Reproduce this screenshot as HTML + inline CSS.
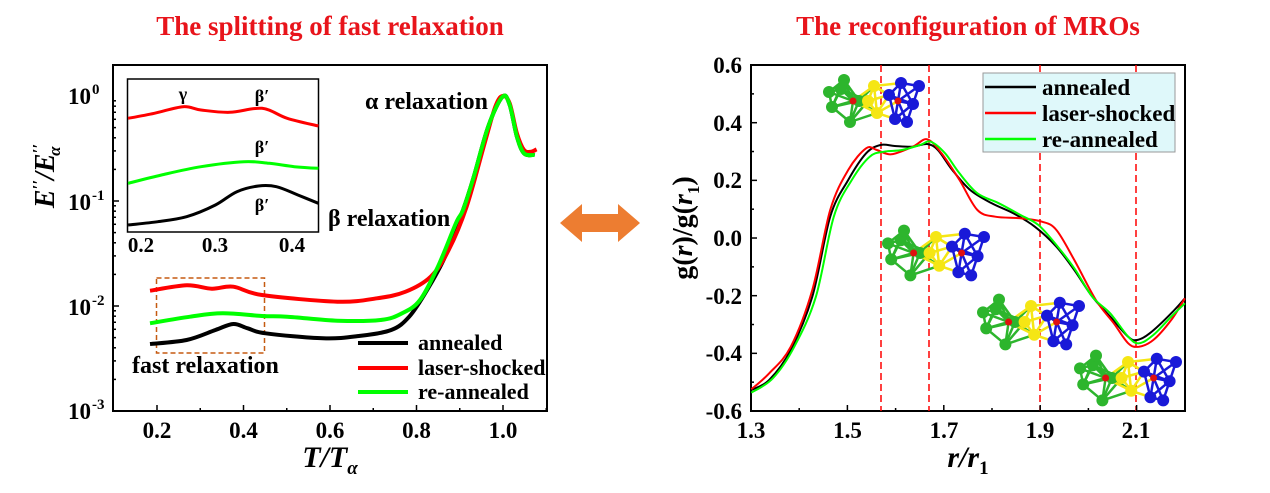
<!DOCTYPE html>
<html><head><meta charset="utf-8"><style>
html,body{margin:0;padding:0;background:#fff;}
svg{display:block;font-family:"Liberation Serif",serif;font-weight:bold;}
</style></head><body>
<svg id="s" width="1270" height="493" viewBox="0 0 1270 493" xmlns="http://www.w3.org/2000/svg">
<text x="330" y="35" font-size="27" fill="#e8141b" text-anchor="middle">The splitting of fast relaxation</text>
<text x="968" y="35" font-size="27" fill="#e8141b" text-anchor="middle">The reconfiguration of MROs</text>
<polygon points="560,223 582,204 582,214 618,214 618,204 640,223 618,242 618,232 582,232 582,242" fill="#ed7d31"/>
<rect x="113" y="65" width="434" height="346" fill="none" stroke="#000" stroke-width="2"/>
<g id="lt" stroke="#000" stroke-width="1.5"></g>
<g font-size="23" text-anchor="middle">
<text x="157" y="438">0.2</text><text x="243.5" y="438">0.4</text><text x="330" y="438">0.6</text><text x="416.5" y="438">0.8</text><text x="503" y="438">1.0</text>
</g>
<g font-size="23" text-anchor="end">
<text x="91" y="104">10</text>
<text x="91" y="210">10</text>
<text x="91" y="315">10</text>
<text x="91" y="419">10</text>
</g>
<g font-size="15">
<text x="92" y="94">0</text><text x="92" y="200">-1</text><text x="92" y="305">-2</text><text x="92" y="409">-3</text>
</g>
<text x="330" y="467" font-size="30" font-style="italic" text-anchor="middle">T/T<tspan font-size="19" dy="7">α</tspan></text>
<text transform="translate(54,176) rotate(-90)" font-size="28" font-style="italic" text-anchor="middle">E<tspan font-size="17" dy="-10">′′</tspan><tspan dy="10">/E</tspan><tspan font-size="17" dy="-10">′′</tspan><tspan font-size="17" dy="16" dx="-12">α</tspan></text>
<rect x="127.5" y="79" width="191" height="153" fill="#fff" stroke="#000" stroke-width="1.5"/>
<g font-size="21" text-anchor="middle"><text x="141" y="252">0.2</text><text x="215" y="252">0.3</text><text x="292" y="252">0.4</text></g>
<g font-size="18" text-anchor="middle"><text x="183" y="100">γ</text><text x="262" y="102">β′</text><text x="262" y="153">β′</text><text x="262" y="211">β′</text></g>
<text x="328" y="226" font-size="24">β relaxation</text>
<text x="365" y="109" font-size="24">α relaxation</text>
<text x="132" y="373" font-size="24">fast relaxation</text>
<rect x="156.5" y="278" width="108" height="75" fill="none" stroke="#c55a11" stroke-width="1.5" stroke-dasharray="5,3"/>
<g stroke-width="4"><line x1="358" y1="343" x2="408" y2="343" stroke="#000"/><line x1="358" y1="368" x2="408" y2="368" stroke="#f00"/><line x1="358" y1="392" x2="408" y2="392" stroke="#0f0"/></g>
<g font-size="22"><text x="418" y="350">annealed</text><text x="418" y="375">laser-shocked</text><text x="418" y="399">re-annealed</text></g>
<rect x="751" y="65" width="434" height="346" fill="none" stroke="#000" stroke-width="2"/>
<g stroke="#f00" stroke-width="1.5" stroke-dasharray="7,4"><line x1="881" y1="65" x2="881" y2="411"/><line x1="929" y1="65" x2="929" y2="411"/><line x1="1040" y1="65" x2="1040" y2="411"/><line x1="1136" y1="65" x2="1136" y2="411"/></g>
<g id="rt" stroke="#000" stroke-width="1.5"></g>
<g font-size="23" text-anchor="middle"><text x="751" y="438">1.3</text><text x="847.5" y="438">1.5</text><text x="944" y="438">1.7</text><text x="1040" y="438">1.9</text><text x="1136" y="438">2.1</text></g>
<g font-size="23" text-anchor="end"><text x="742" y="73">0.6</text><text x="742" y="131">0.4</text><text x="742" y="188">0.2</text><text x="742" y="246">0.0</text><text x="742" y="304">-0.2</text><text x="742" y="361">-0.4</text><text x="742" y="419">-0.6</text></g>
<text x="968" y="467" font-size="30" font-style="italic" text-anchor="middle">r/r<tspan font-size="19" dy="7" font-style="normal">1</tspan></text>
<text transform="translate(692,228) rotate(-90)" font-size="28" text-anchor="middle">g(<tspan font-style="italic">r</tspan>)/g(<tspan font-style="italic">r</tspan><tspan font-size="17" dy="7">1</tspan><tspan dy="-7">)</tspan></text>
<g id="mol"></g>
<rect x="983" y="73" width="192" height="79" fill="#dff8fa" stroke="#999" stroke-width="1"/>
<g stroke-width="2.5"><line x1="985" y1="87" x2="1036" y2="87" stroke="#000"/><line x1="985" y1="113" x2="1036" y2="113" stroke="#f00"/><line x1="985" y1="139" x2="1036" y2="139" stroke="#0f0"/></g>
<g font-size="23"><text x="1042" y="95">annealed</text><text x="1042" y="121">laser-shocked</text><text x="1042" y="147">re-annealed</text></g>
<g id="curves" fill="none"></g>
</svg>
<script>
var K=2.786,KY=3;
function P(a,ox,oy){return a.map(function(p){return [ox+p[0]/K,oy+p[1]/KY];});}
function cr(pts){var d="M"+pts[0][0].toFixed(1)+","+pts[0][1].toFixed(1);
for(var i=0;i<pts.length-1;i++){var p0=pts[i-1]||pts[i],p1=pts[i],p2=pts[i+1],p3=pts[i+2]||p2;
var c1=[p1[0]+(p2[0]-p0[0])/6,p1[1]+(p2[1]-p0[1])/6],c2=[p2[0]-(p3[0]-p1[0])/6,p2[1]-(p3[1]-p1[1])/6];
d+="C"+c1[0].toFixed(1)+","+c1[1].toFixed(1)+" "+c2[0].toFixed(1)+","+c2[1].toFixed(1)+" "+p2[0].toFixed(1)+","+p2[1].toFixed(1);}return d;}
var NS="http://www.w3.org/2000/svg";
function path(par,d,c,w){var e=document.createElementNS(NS,"path");e.setAttribute("d",d);e.setAttribute("stroke",c);e.setAttribute("stroke-width",w);e.setAttribute("fill","none");par.appendChild(e);}
var C=document.getElementById("curves");
var topPts=[[1290,480],[1320,380],[1360,230],[1400,140],[1420,165],[1440,260],[1460,310],[1490,315]];
var L={
"#000":[[418,882],[520,870],[600,840],[650,822],[690,835],[740,850],[900,865],[1000,858],[1090,840],[1140,800],[1190,720],[1240,620]].concat(topPts),
"#f00":[[418,722],[520,706],[590,716],[650,710],[730,735],[940,755],[1050,745],[1130,725],[1200,680],[1250,600],[1300,470],[1350,280],[1380,170],[1400,138],[1420,160],[1440,250],[1460,300],[1480,305],[1495,298]],
"#0f0":[[418,820],[530,800],[620,790],[730,798],[800,800],[940,812],[1060,810],[1120,790],[1170,750],[1220,650],[1270,520]].concat(topPts)};
["#000","#f00","#0f0"].forEach(function(c){path(C,cr(P(L[c],0,50)),c,4);});
var I={"#f00":[[357,205],[430,190],[510,170],[560,180],[640,187],[730,175],[800,205],[887,228]],
"#0f0":[[357,400],[450,375],[560,350],[680,335],[750,340],[820,350],[887,355]],
"#000":[[357,525],[440,515],[520,500],[600,465],[660,425],[720,408],[770,410],[830,435],[887,460]]};
for(var c in I)path(C,cr(P(I[c],0,50)),c,3);
var R={"#000":[[310,1020],[360,990],[420,900],[480,740],[530,500],[580,390],[630,310],[670,285],[710,288],[760,290],[800,282],[830,300],[870,360],[920,420],[980,460],[1040,490],[1100,530],[1160,590],[1210,660],[1260,740],[1310,800],[1360,860],[1385,870],[1420,850],[1480,790],[1518,745]],
"#f00":[[310,1018],[360,970],[420,890],[480,720],[530,480],[580,360],[630,295],[660,300],[700,313],[760,290],[800,268],[840,310],[890,390],[940,480],[990,500],[1060,505],[1120,515],[1160,540],[1210,630],[1270,750],[1320,820],[1360,880],[1390,890],[1430,870],[1480,810],[1518,745]],
"#0f0":[[310,1028],[370,985],[430,890],[490,740],[540,500],[590,390],[640,320],[680,305],[730,300],[780,285],[810,275],[850,310],[890,370],[940,430],[1000,460],[1060,495],[1110,525],[1160,585],[1210,655],[1260,740],[1310,790],[1360,860],[1390,880],[1430,855],[1480,800],[1518,760]]};
["#000","#f00","#0f0"].forEach(function(c){path(C,cr(P(R[c],640,50)),c,2);});
function ln(g,x1,y1,x2,y2){var e=document.createElementNS(NS,"line");e.setAttribute("x1",x1);e.setAttribute("y1",y1);e.setAttribute("x2",x2);e.setAttribute("y2",y2);g.appendChild(e);}
var lt=document.getElementById("lt");
for(var i=0;i<=9;i++){var v=0.2+i*0.1;var x=157+(v-0.2)*432.5;if(x<547)ln(lt,x,411,x,i%2==0?405:408);}
for(var d=0;d<3;d++){for(var k=1;k<10;k++){var y=411-105*(d+Math.log10(k));ln(lt,113,y,k==1?119:116,y);}}
var rt=document.getElementById("rt");
for(var i=0;i<=9;i++){var x=751+i*48.2;ln(rt,x,411,x,i%2==0?405:408);}
for(var i=0;i<=12;i++){var y=411-i*28.83;ln(rt,751,y,i%2==0?757:754,y);}
var M=document.getElementById("mol");
function mol(cx,cy,s){var cols=[["#2db52d",-22,-8],["#2db52d",-28,4],["#2db52d",-16,14],["#2db52d",-20,-14],["#2db52d",-10,0],["#2db52d",-30,-6],["#f5e614",0,-10],["#f5e614",2,8],["#f5e614",-4,0],["#1919d8",18,-12],["#1919d8",26,2],["#1919d8",14,12],["#1919d8",30,-10],["#1919d8",22,14],["#1919d8",10,-4],["#e01010",-14,0],["#e01010",16,0]];
for(var i=0;i<cols.length;i++)for(var j=i+1;j<cols.length;j++){var a=cols[i],b=cols[j];var dd=Math.hypot(a[1]-b[1],a[2]-b[2]);if(dd<20){var e=document.createElementNS(NS,"line");e.setAttribute("x1",cx+a[1]*s);e.setAttribute("y1",cy+a[2]*s);e.setAttribute("x2",cx+b[1]*s);e.setAttribute("y2",cy+b[2]*s);e.setAttribute("stroke",a[0]);e.setAttribute("stroke-width",2.5);M.appendChild(e);}}
cols.forEach(function(c){var e=document.createElementNS(NS,"circle");e.setAttribute("cx",cx+c[1]*s);e.setAttribute("cy",cy+c[2]*s);e.setAttribute("r",c[0]=="#e01010"?3.5:6);e.setAttribute("fill",c[0]);M.appendChild(e);});}
mol(874,101,1.5);mol(936,253,1.6);mol(1031,322,1.6);mol(1128,378,1.6);
</script>
</body></html>
